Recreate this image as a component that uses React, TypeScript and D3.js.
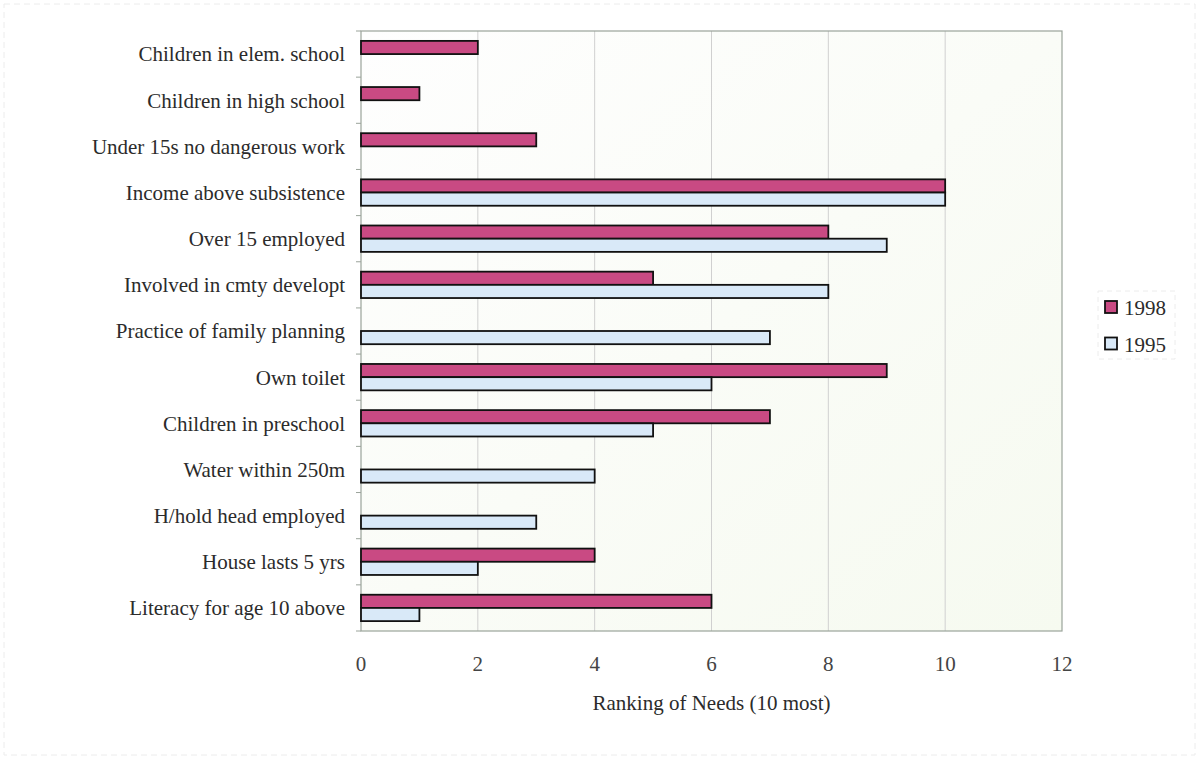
import React from "react";
import * as d3 from "d3";

const categories = [
  "Children in elem. school",
  "Children in high school",
  "Under 15s no dangerous work",
  "Income above subsistence",
  "Over 15 employed",
  "Involved in cmty developt",
  "Practice of family planning",
  "Own toilet",
  "Children in preschool",
  "Water within 250m",
  "H/hold head employed",
  "House lasts 5 yrs",
  "Literacy for age 10 above",
];

// null = need not ranked that year
const values1998: (number | null)[] = [2, 1, 3, 10, 8, 5, null, 9, 7, null, null, 4, 6];
const values1995: (number | null)[] = [null, null, null, 10, 9, 8, 7, 6, 5, 4, 3, 2, 1];

const seriesNames = ["1998", "1995"];
const xTicks = [0, 2, 4, 6, 8, 10, 12];
const xTitle = "Ranking of Needs (10 most)";

const W = 1199;
const H = 759;
const plot = { left: 361, right: 1062, top: 31, bottom: 631 };
const colors: Record<string, string> = { "1998": "#c94a83", "1995": "#d9e9f8" };
const font = "'Liberation Serif', 'Times New Roman', serif";
const textColor = "#2b2b2b";
const fs = 21;

export default function App() {
  const x = d3.scaleLinear().domain([0, 12]).range([plot.left, plot.right]);
  const y = d3
    .scaleBand<string>()
    .domain(categories)
    .range([plot.top, plot.bottom])
    .paddingInner(0)
    .paddingOuter(0);
  const groupH = y.bandwidth() / 1.75;
  const sub = d3
    .scaleBand<string>()
    .domain(seriesNames)
    .range([(y.bandwidth() - groupH) / 2, (y.bandwidth() + groupH) / 2]);

  const series = [
    { name: "1998", vals: values1998 },
    { name: "1995", vals: values1995 },
  ];

  const boundaries = d3.range(categories.length + 1).map((i) => plot.top + i * y.bandwidth());

  return (
    <svg
      width={W}
      height={H}
      style={{ position: "absolute", left: 0, top: 0, display: "block", background: "#fff" }}
      fontFamily={font}
    >
      <defs>
        <linearGradient id="plotbg" x1="0" x2="1" y1="0" y2="1">
          <stop offset="0" stopColor="#fefefe" />
          <stop offset="1" stopColor="#f6faf0" />
        </linearGradient>
      </defs>
      <rect
        x={4}
        y={4}
        width={W - 8}
        height={H - 8}
        fill="none"
        stroke="#ececec"
        strokeDasharray="6 4"
      />
      <rect
        x={plot.left}
        y={plot.top}
        width={plot.right - plot.left}
        height={plot.bottom - plot.top}
        fill="url(#plotbg)"
      />
      {xTicks.slice(1, -1).map((t) => (
        <line key={t} x1={x(t)} x2={x(t)} y1={plot.top} y2={plot.bottom} stroke="#d0d0d0" strokeWidth={1} />
      ))}
      <rect
        x={plot.left}
        y={plot.top}
        width={plot.right - plot.left}
        height={plot.bottom - plot.top}
        fill="none"
        stroke="#9aa39a"
        strokeWidth={1.2}
      />
      {boundaries.map((b, i) => (
        <line key={i} x1={plot.left - 5} x2={plot.left} y1={b} y2={b} stroke="#9aa39a" strokeWidth={1} />
      ))}
      {series.map((s) =>
        categories.map((c, i) => {
          const v = s.vals[i];
          if (v == null) return null;
          return (
            <rect
              key={s.name + c}
              x={x(0)}
              y={(y(c) ?? 0) + (sub(s.name) ?? 0)}
              width={x(v) - x(0)}
              height={sub.bandwidth()}
              fill={colors[s.name]}
              stroke="#111"
              strokeWidth={1.8}
            />
          );
        })
      )}
      {categories.map((c) => (
        <text
          key={c}
          x={plot.left - 16}
          y={(y(c) ?? 0) + y.bandwidth() / 2}
          dy="0.35em"
          textAnchor="end"
          fontSize={fs}
          fill={textColor}
        >
          {c}
        </text>
      ))}
      {xTicks.map((t) => (
        <text key={t} x={x(t)} y={664} dy="0.35em" textAnchor="middle" fontSize={fs} fill="#444">
          {t}
        </text>
      ))}
      <text
        x={(plot.left + plot.right) / 2}
        y={703}
        dy="0.35em"
        textAnchor="middle"
        fontSize={fs}
        fill={textColor}
      >
        {xTitle}
      </text>
      <g>
        <rect x={1098} y={291} width={77} height={68} fill="none" stroke="#ececec" strokeDasharray="5 4" />
        {seriesNames.map((n, i) => (
          <g key={n} transform={`translate(1105, ${307 + i * 36.5})`}>
            <rect x={0} y={-6} width={12} height={12} fill={colors[n]} stroke="#111" strokeWidth={1.8} />
            <text x={19} y={1} dy="0.35em" fontSize={fs} fill={textColor}>
              {n}
            </text>
          </g>
        ))}
      </g>
    </svg>
  );
}
